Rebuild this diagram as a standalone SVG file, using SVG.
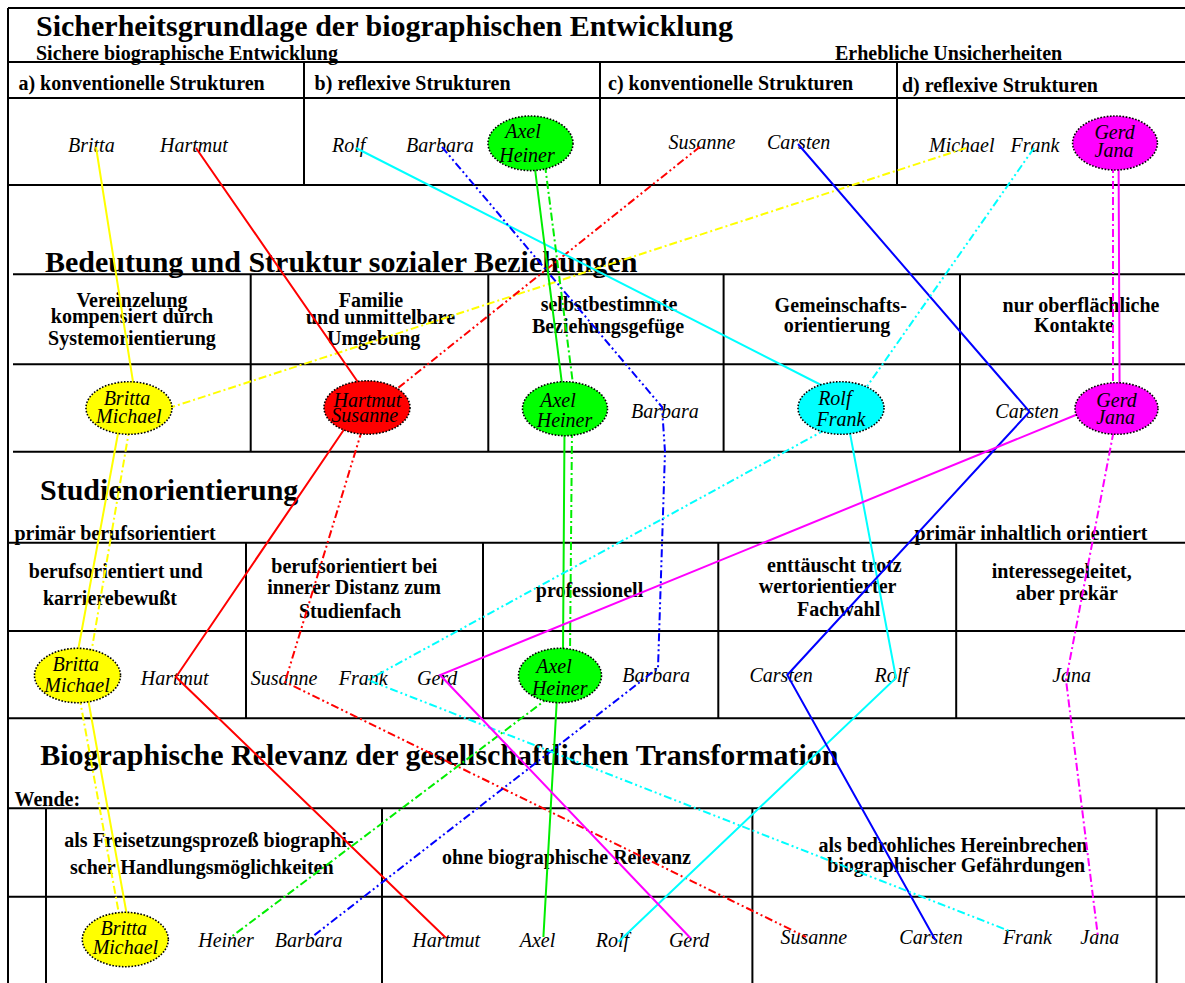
<svg xmlns="http://www.w3.org/2000/svg" width="1185" height="983" viewBox="0 0 1185 983">
<style>
.t{font-family:"Liberation Serif","Times New Roman",serif;font-weight:bold;font-size:20px;fill:#000}
.h{font-size:30px}
.m{text-anchor:middle}
.n{font-family:"Liberation Serif","Times New Roman",serif;font-style:italic;font-size:20px;fill:#000}
.g{stroke:#000;stroke-width:2;fill:none}
.e{stroke:#000;stroke-width:1.6;stroke-dasharray:1.6 1.6}
.c{fill:none;stroke-width:2}
.d1{stroke-dasharray:8 3 2 3}
.d2{stroke-dasharray:8 3 2 3 2 3}
.Y{stroke:#ffff00}.R{stroke:#ff0000}.G{stroke:#00ee00}.C{stroke:#00ffff}.B{stroke:#0000ff}.M{stroke:#ff00ff}
</style>
<rect width="1185" height="983" fill="#fff"/>
<g id="grid" class="g">
<path d="M8,8H1185M8,8V983M8,62H1185M8,98H1185M8,185H1185M304,62V185M600,62V185M897,62V185"/>
<path d="M13,274.3H1185M13,364.3H1185M13,451.7H1185M250.7,274.3V451.7M488.3,274.3V451.7M723.6,274.3V451.7M960,274.3V451.7"/>
<path d="M8,542.7H1185M8,631H1185M8,718.3H1185M246,542.7V718.3M483,542.7V718.3M718.3,542.7V718.3M956.2,542.7V718.3"/>
<path d="M8,808.3H1185M8,896.7H1185M46,808.3V983M382,808.3V983M752.4,808.3V983M1156.6,808.3V983"/>
</g>
<g id="labels">
<text class="t h" x="36" y="35.7">Sicherheitsgrundlage der biographischen Entwicklung</text>
<text class="t" x="36" y="59.5">Sichere biographische Entwicklung</text>
<text class="t" x="835" y="60">Erhebliche Unsicherheiten</text>
<text class="t" x="18.4" y="90">a) konventionelle Strukturen</text>
<text class="t" x="314.6" y="90">b) reflexive Strukturen</text>
<text class="t" x="608" y="89.5">c) konventionelle Strukturen</text>
<text class="t" x="902" y="91.5">d) reflexive Strukturen</text>
<text class="t h" x="45" y="272.3">Bedeutung und Struktur sozialer Beziehungen</text>
<text class="t m" x="132" y="306.7">Vereinzelung</text>
<text class="t m" x="132" y="323.3">kompensiert durch</text>
<text class="t m" x="132" y="344.5">Systemorientierung</text>
<text class="t" x="338.7" y="306.7">Familie</text>
<text class="t" x="306" y="324.3">und unmittelbare</text>
<text class="t" x="327" y="344.5">Umgebung</text>
<text class="t m" x="609" y="311">selbstbestimmte</text>
<text class="t m" x="608" y="333.3">Beziehungsgefüge</text>
<text class="t m" x="840.7" y="311.7">Gemeinschafts-</text>
<text class="t m" x="837" y="331.7">orientierung</text>
<text class="t m" x="1081" y="311.7">nur oberflächliche</text>
<text class="t m" x="1074" y="331.7">Kontakte</text>
<text class="t h" x="40" y="500">Studienorientierung</text>
<text class="t" x="14.5" y="540">primär berufsorientiert</text>
<text class="t" x="914.5" y="540">primär inhaltlich orientiert</text>
<text class="t m" x="115.8" y="578.3">berufsorientiert und</text>
<text class="t m" x="110" y="605">karrierebewußt</text>
<text class="t m" x="354.4" y="572.7">berufsorientiert bei</text>
<text class="t m" x="354" y="594">innerer Distanz zum</text>
<text class="t m" x="350" y="618.3">Studienfach</text>
<text class="t" x="535.8" y="596.7">professionell</text>
<text class="t m" x="834.4" y="571.7">enttäuscht trotz</text>
<text class="t m" x="827.6" y="593.3">wertorientierter</text>
<text class="t m" x="838.6" y="615.7">Fachwahl</text>
<text class="t m" x="1061.7" y="578.3">interessegeleitet,</text>
<text class="t m" x="1066.8" y="600">aber prekär</text>
<text class="t h" x="40.2" y="765">Biographische Relevanz der gesellschaftlichen Transformation</text>
<text class="t" x="14.5" y="805.7">Wende:</text>
<text class="t" x="64.3" y="846.7">als Freisetzungsprozeß biographi-</text>
<text class="t" x="70" y="874.3">scher Handlungsmöglichkeiten</text>
<text class="t" x="442" y="864.3">ohne biographische Relevanz</text>
<text class="t" x="818.5" y="852.3">als bedrohliches Hereinbrechen</text>
<text class="t" x="827.2" y="871.7">biographischer Gefährdungen</text>
</g>
<g id="r1-britta"><text class="n" x="68" y="151.5">Britta</text></g>
<g id="r1-hartmut"><text class="n" x="160" y="151.5">Hartmut</text></g>
<g id="r1-rolf"><text class="n" x="332" y="151.5">Rolf</text></g>
<g id="r1-barbara"><text class="n" x="406" y="151.5">Barbara</text></g>
<g id="r1-susanne"><text class="n" x="668.6" y="149.3">Susanne</text></g>
<g id="r1-carsten"><text class="n" x="767" y="149.3">Carsten</text></g>
<g id="r1-michael"><text class="n" x="929" y="151.7">Michael</text></g>
<g id="r1-frank"><text class="n" x="1010.5" y="151.7">Frank</text></g>
<g id="r2-barbara"><text class="n" x="631" y="418.3">Barbara</text></g>
<g id="r2-carsten"><text class="n" x="995.3" y="418.3">Carsten</text></g>
<g id="r3-hartmut"><text class="n" x="140.8" y="685">Hartmut</text></g>
<g id="r3-susanne"><text class="n" x="250.7" y="685">Susanne</text></g>
<g id="r3-frank"><text class="n" x="338.7" y="685">Frank</text></g>
<g id="r3-gerd"><text class="n" x="417" y="685">Gerd</text></g>
<g id="r3-barbara"><text class="n" x="622.3" y="682.3">Barbara</text></g>
<g id="r3-carsten"><text class="n" x="749.4" y="682.3">Carsten</text></g>
<g id="r3-rolf"><text class="n" x="874.6" y="682.3">Rolf</text></g>
<g id="r3-jana"><text class="n" x="1052.2" y="682.3">Jana</text></g>
<g id="r4-heiner"><text class="n" x="198.2" y="946.7">Heiner</text></g>
<g id="r4-barbara"><text class="n" x="274.8" y="946.7">Barbara</text></g>
<g id="r4-hartmut"><text class="n" x="412.2" y="946.7">Hartmut</text></g>
<g id="r4-axel"><text class="n" x="519.7" y="946.7">Axel</text></g>
<g id="r4-rolf"><text class="n" x="595.7" y="946.7">Rolf</text></g>
<g id="r4-gerd"><text class="n" x="668.9" y="946.7">Gerd</text></g>
<g id="r4-susanne"><text class="n" x="780.5" y="944.3">Susanne</text></g>
<g id="r4-carsten"><text class="n" x="899.3" y="944.3">Carsten</text></g>
<g id="r4-frank"><text class="n" x="1002.9" y="944.3">Frank</text></g>
<g id="r4-jana"><text class="n" x="1080.3" y="944.3">Jana</text></g>
<g id="connectors">
<path class="c Y" d="M96,147L134,388M119,428L77.4,654M87.7,697L127.4,918"/>
<path class="c Y d1" d="M966,148L166,409M129.5,428L91,654M79.4,697L119.7,918"/>
<path class="c R" d="M196,148L362,388M343.7,430L176,677L446,938"/>
<path class="c R d2" d="M700,146.7L395.5,390M362,430L285,682L806,937"/>
<path class="c C" d="M356,148L827,388M849,428L896,678L618.5,941.7"/>
<path class="c B d2" d="M442,147L662,407L665,452L658,668L312,937"/>
<path class="c G" d="M534.5,165L562.5,388M564.5,430L563,654M557,697L543.4,937"/>
<path class="c G d1" d="M545,165L573.5,388M572,430L570,654M549.6,697L231.5,936.7"/>
<path class="c B" d="M798,144L1029.5,411.7L994.2,450L787.3,675L935.4,940"/>
<path class="c C d2" d="M1034,148L864.5,390M826,429.3L368,680L1011.3,931.7"/>
<path class="c M" d="M1118.6,165L1119.6,389M1080,413.3L440,675L690.6,938.3"/>
<path class="c M d1" d="M1113,165L1113,389M1113.5,432L1066,680L1098,937"/>
</g>
<g id="r1-axel-heiner"><ellipse class="e" cx="530.5" cy="143.3" rx="42.5" ry="27.3" fill="#00ff00"/><text class="n m" x="523" y="137.7">Axel</text><text class="n m" x="527" y="161.7">Heiner</text></g>
<g id="r1-gerd-jana"><ellipse class="e" cx="1115" cy="143" rx="42.4" ry="27" fill="#ff00ff"/><text class="n m" x="1114.6" y="139.3">Gerd</text><text class="n m" x="1114" y="156.7">Jana</text></g>
<g id="r2-britta-michael"><ellipse class="e" cx="129" cy="408" rx="43" ry="26.3" fill="#ffff00"/><text class="n m" x="127" y="405">Britta</text><text class="n m" x="128.8" y="423.3">Michael</text></g>
<g id="r2-hartmut-susanne"><ellipse class="e" cx="367" cy="407.5" rx="43" ry="26.7" fill="#ff0000"/><text class="n m" x="367.4" y="406.7">Hartmut</text><text class="n m" x="364.7" y="422.3">Susanne</text></g>
<g id="r2-axel-heiner"><ellipse class="e" cx="565" cy="408.7" rx="42.5" ry="27" fill="#00ff00"/><text class="n m" x="558" y="406.7">Axel</text><text class="n m" x="564.5" y="426.7">Heiner</text></g>
<g id="r2-rolf-frank"><ellipse class="e" cx="841" cy="408" rx="43" ry="26.3" fill="#00ffff"/><text class="n m" x="834.8" y="405">Rolf</text><text class="n m" x="841" y="425.7">Frank</text></g>
<g id="r2-gerd-jana"><ellipse class="e" cx="1116.5" cy="408.5" rx="41.5" ry="25.8" fill="#ff00ff"/><text class="n m" x="1116.5" y="406.7">Gerd</text><text class="n m" x="1115.6" y="424.3">Jana</text></g>
<g id="r3-britta-michael"><ellipse class="e" cx="77.5" cy="675.5" rx="43" ry="27.2" fill="#ffff00"/><text class="n m" x="75.8" y="670.7">Britta</text><text class="n m" x="77" y="691.7">Michael</text></g>
<g id="r3-axel-heiner"><ellipse class="e" cx="560" cy="675.5" rx="41.5" ry="27.2" fill="#00ff00"/><text class="n m" x="554" y="672.7">Axel</text><text class="n m" x="559.7" y="695">Heiner</text></g>
<g id="r4-britta-michael"><ellipse class="e" cx="125.3" cy="939.5" rx="43" ry="27.2" fill="#ffff00"/><text class="n m" x="123.8" y="935">Britta</text><text class="n m" x="125.4" y="954.3">Michael</text></g>
</svg>
